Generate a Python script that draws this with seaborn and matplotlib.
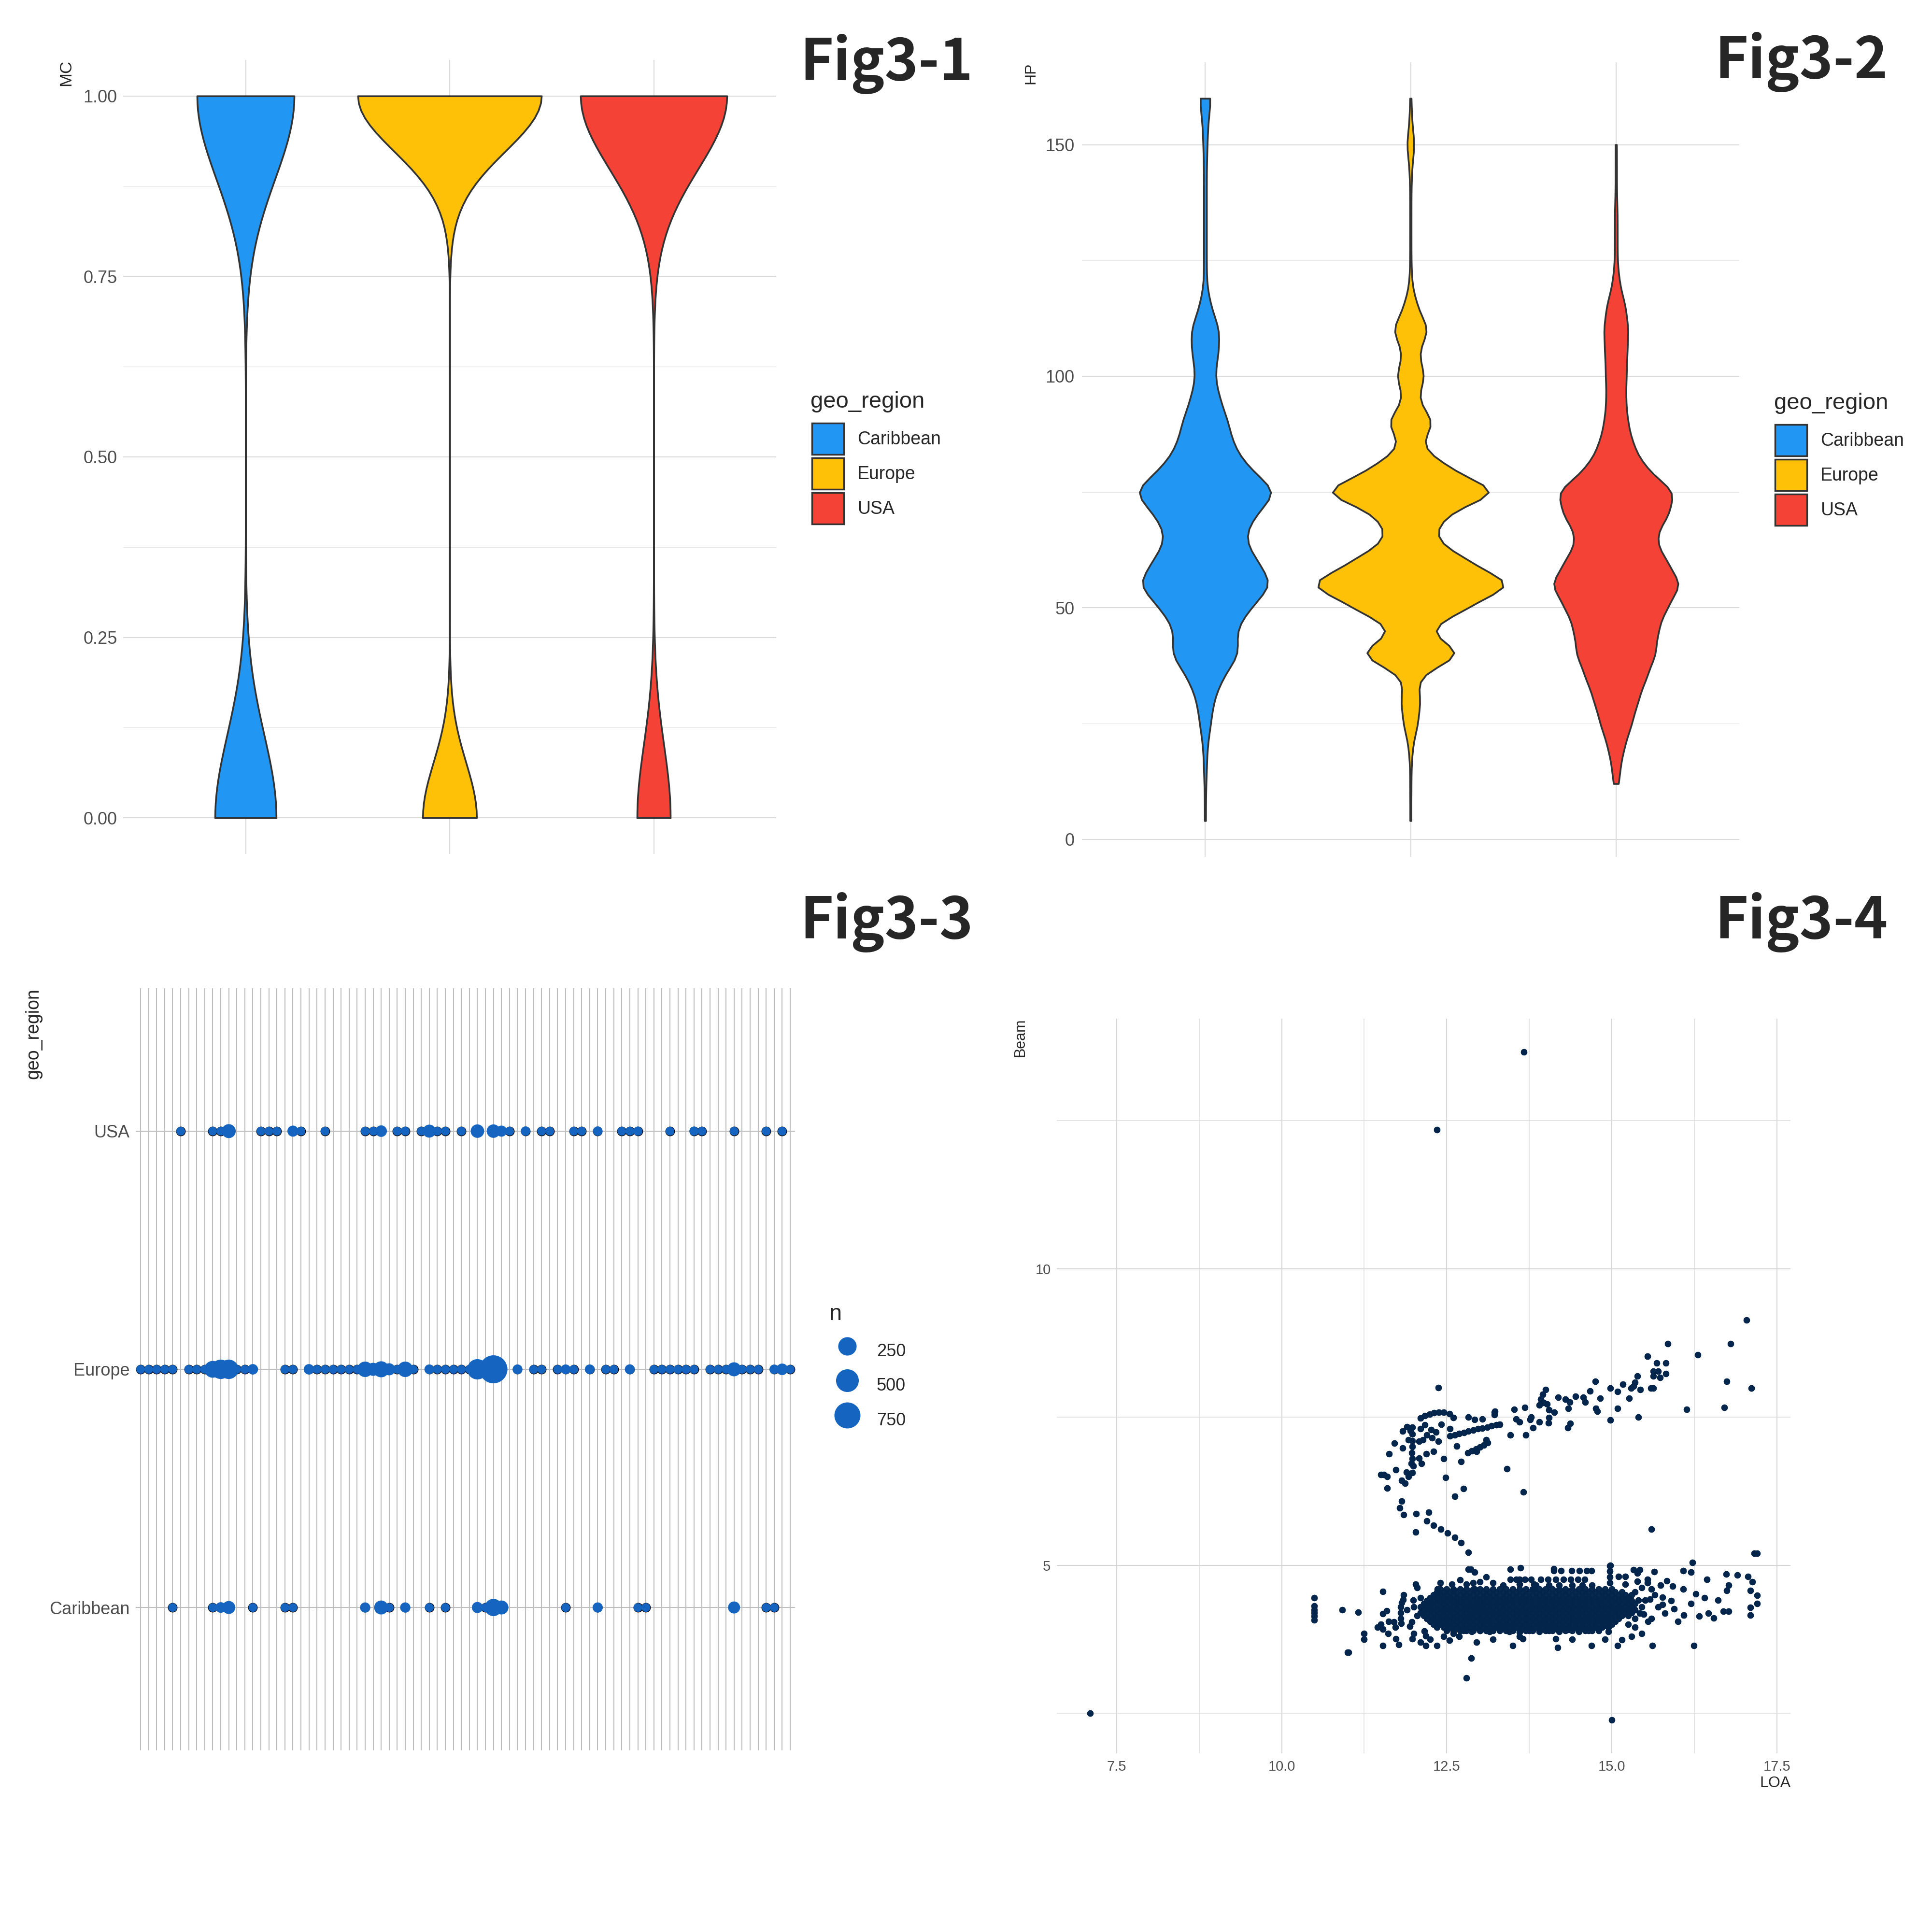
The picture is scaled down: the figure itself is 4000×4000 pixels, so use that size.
import numpy as np
import pandas as pd
import matplotlib
matplotlib.use("Agg")
import matplotlib.pyplot as plt
import seaborn as sns
from matplotlib.patches import Patch
from matplotlib.lines import Line2D
from matplotlib.ticker import FixedLocator

sns.set_theme(style="white")
plt.rcParams['font.family'] = ['Liberation Sans', 'DejaVu Sans']

###################################################
# data

regions = ["Caribbean", "Europe", "USA"]
region_colors = ["#2196F3", "#FFC107", "#F44336"]

# Fig3-1: MC is 0/1, number of boats per value and region
mc_zero = [314, 658, 92]
mc_one = [498, 2242, 404]

# Fig3-2: HP, number of boats per HP value
hp_grid = [4, 10, 15, 20, 25, 30, 35, 40, 45, 50, 55, 60, 65, 70, 75, 80,
           85, 90, 95, 100, 105, 110, 115, 120, 125, 130, 135, 140, 145, 150, 155, 160]
hp_caribbean = [1, 1, 2, 3, 8, 12, 25, 50, 42, 64, 98, 74, 54, 70, 106, 62,
                40, 33, 21, 13, 19, 21, 8, 2, 2, 2, 2, 2, 2, 3, 4, 9]
hp_europe = [1, 1, 1, 3, 11, 15, 9, 82, 22, 84, 158, 86, 34, 50, 138, 58,
             14, 36, 10, 22, 11, 28, 10, 2, 1, 1, 1, 1, 2, 6, 2, 1]
hp_usa_grid = [12, 15, 20, 25, 30, 35, 40, 45, 50, 55, 60, 65, 70, 75, 80,
               85, 90, 95, 100, 105, 110, 115, 120, 125, 130, 135, 140, 145, 150]
hp_usa = [2, 5, 12, 23, 32, 44, 58, 60, 73, 96, 73, 55, 76, 87, 43,
          25, 17, 14, 15, 16, 18, 14, 5, 2, 2, 2, 1, 1, 1]

# Fig3-3: counts n per (hidden x category, geo_region); 82 x categories
n_levels = 82
usa_pos = [5, 9, 10, 11, 15, 16, 17, 19, 20, 23, 28, 29, 30, 32, 33, 35, 36, 37, 38, 40,
           42, 44, 45, 46, 48, 50, 51, 54, 55, 57, 60, 61, 62, 66, 69, 70, 74, 78, 80]
usa_n = [2, 2, 2, 83, 2, 2, 2, 23, 2, 2, 2, 2, 30, 2, 3, 2, 59, 2, 2, 2,
         70, 70, 23, 2, 6, 2, 2, 2, 2, 6, 2, 2, 4, 2, 4, 2, 2, 2, 2]
europe_pos = [0, 1, 2, 3, 4, 6, 7, 8, 9, 10, 11, 12, 13, 14, 18, 19, 21, 22, 23, 24,
              25, 26, 27, 28, 29, 30, 31, 32, 33, 34, 36, 37, 38, 39, 40, 41, 42, 43, 44, 47,
              49, 50, 52, 53, 54, 56, 58, 59, 61, 64, 65, 66, 67, 68, 69, 71, 72, 73, 74, 75,
              76, 77, 79, 80, 81]
europe_n = [2, 2, 2, 2, 2, 2, 2, 2, 180, 300, 300, 2, 2, 15, 2, 2, 15, 2, 2, 2,
            2, 2, 2, 130, 60, 150, 40, 2, 130, 2, 8, 2, 2, 2, 2, 2, 350, 2, 921, 8,
            2, 2, 2, 8, 2, 8, 2, 2, 10, 2, 2, 2, 2, 2, 2, 2, 2, 2, 85, 2,
            2, 2, 6, 30, 2]
caribbean_pos = [4, 9, 10, 11, 14, 18, 19, 28, 30, 31, 33, 36, 38, 42, 43, 44, 45, 53,
                 57, 62, 63, 74, 78, 79]
caribbean_n = [2, 2, 17, 59, 2, 2, 2, 12, 83, 2, 12, 2, 2, 23, 2, 200, 83, 2,
               12, 2, 2, 39, 2, 2]

# Fig3-4: LOA / Beam, (loa, beam, boats at that spot)
arm_points = [
    (13.67, 13.66, 3), (12.35, 12.35, 3), (12.37, 8.00, 2),
    (17.04, 9.14, 1), (15.85, 8.74, 3), (16.80, 8.74, 2), (15.54, 8.53, 3), (16.30, 8.55, 2),
    (15.68, 8.41, 1), (15.82, 8.41, 1), (15.63, 8.27, 1), (15.70, 8.27, 1), (15.82, 8.23, 1),
    (15.63, 8.19, 1), (15.73, 8.17, 1), (15.39, 8.19, 1), (15.35, 8.09, 1), (15.29, 7.99, 1),
    (15.33, 8.02, 1), (15.43, 7.96, 1), (15.59, 7.99, 1), (15.63, 7.99, 1), (16.74, 8.10, 1),
    (17.11, 7.99, 3), (14.75, 8.10, 3), (14.98, 7.99, 3), (15.17, 8.05, 1), (15.09, 7.93, 1),
    (15.26, 7.82, 1), (14.82, 7.82, 1), (14.67, 7.94, 1), (14.57, 7.83, 1), (14.60, 7.75, 1),
    (14.45, 7.85, 3), (14.30, 7.80, 3), (14.36, 7.75, 1), (14.34, 7.65, 1), (14.37, 7.39, 1),
    (14.33, 7.32, 3), (14.19, 7.83, 1), (14.00, 7.96, 1), (13.92, 7.80, 3), (13.97, 7.74, 3),
    (13.90, 7.70, 2), (14.02, 7.72, 2), (13.95, 7.88, 3), (14.05, 7.62, 2), (14.13, 7.58, 1),
    (14.04, 7.40, 2), (14.05, 7.49, 1), (14.76, 7.65, 3), (14.78, 7.60, 1), (15.09, 7.65, 1),
    (14.98, 7.45, 3), (15.40, 7.50, 1), (16.13, 7.63, 1), (16.70, 7.66, 1), (13.68, 7.66, 1),
    (13.52, 7.63, 1), (13.23, 7.60, 1), (13.22, 7.54, 1), (13.78, 7.50, 3), (13.76, 7.46, 3),
    (13.60, 7.42, 3), (13.55, 7.47, 1), (13.90, 7.42, 1), (13.81, 7.32, 1), (13.46, 7.20, 3),
    (13.70, 7.20, 3), (13.30, 7.38, 3),
    (12.55, 7.18, 1), (12.62, 7.20, 1), (12.69, 7.22, 1), (12.76, 7.24, 1), (12.83, 7.26, 1),
    (12.90, 7.28, 1), (12.97, 7.30, 1), (13.04, 7.31, 1), (13.11, 7.33, 1), (13.18, 7.35, 1),
    (13.25, 7.37, 2),
    (12.82, 6.90, 1), (12.88, 6.93, 1), (12.94, 6.96, 1), (13.00, 6.99, 1), (13.06, 7.03, 1),
    (13.12, 7.07, 1), (13.10, 7.12, 3), (12.95, 6.92, 3),
    (12.10, 7.48, 1), (12.17, 7.52, 1), (12.24, 7.55, 1), (12.31, 7.57, 1), (12.38, 7.58, 1),
    (12.45, 7.58, 1), (12.54, 7.56, 1), (12.60, 7.49, 3), (12.83, 7.50, 1), (12.92, 7.46, 1),
    (13.04, 7.47, 1), (13.22, 7.58, 1),
    (11.90, 7.34, 3), (11.98, 7.33, 3), (11.95, 7.27, 3), (11.98, 7.21, 2), (11.98, 7.10, 2),
    (11.98, 7.00, 2), (11.97, 6.90, 2), (11.98, 6.80, 2), (11.96, 6.72, 3), (11.99, 6.68, 3),
    (11.83, 7.26, 1), (11.92, 7.12, 1), (11.83, 6.98, 1), (11.71, 7.06, 1), (11.63, 6.88, 1),
    (12.12, 6.72, 3), (12.08, 6.81, 1), (12.19, 6.88, 1), (12.30, 6.92, 1), (12.45, 6.80, 1),
    (12.72, 6.75, 1), (12.10, 7.30, 1), (12.17, 7.37, 1), (12.26, 7.29, 1), (12.34, 7.25, 1),
    (12.42, 7.38, 1), (12.55, 7.30, 1), (12.14, 7.12, 1), (12.08, 7.09, 1), (12.37, 7.09, 3),
    (12.65, 7.01, 3), (12.20, 7.20, 1), (12.28, 7.15, 1),
    (11.50, 6.53, 3), (11.55, 6.53, 3), (11.60, 6.50, 1), (11.73, 6.61, 3), (11.60, 6.30, 3),
    (11.89, 6.57, 1), (11.92, 6.50, 1), (11.98, 6.56, 1), (11.82, 6.43, 1), (11.87, 6.38, 1),
    (12.48, 6.48, 1), (13.41, 6.63, 3), (13.66, 6.24, 1), (12.75, 6.29, 1), (12.62, 6.16, 1),
    (11.82, 6.08, 1), (11.79, 5.97, 3), (11.85, 5.85, 1), (12.04, 5.87, 1), (12.23, 5.89, 1),
    (12.20, 5.75, 1), (12.30, 5.67, 1), (12.41, 5.61, 1), (12.51, 5.54, 1), (12.62, 5.47, 1),
    (12.72, 5.38, 1), (12.83, 5.22, 1), (12.03, 5.56, 1), (15.60, 5.61, 1), (17.16, 5.20, 3),
    (17.20, 5.20, 1), (16.22, 5.05, 3), (14.98, 5.00, 3),
]
band_points = [
    (7.10, 2.50, 1), (15.00, 2.39, 1), (12.80, 3.10, 1), (12.87, 3.43, 3), (11.00, 3.53, 1),
    (14.12, 4.91, 1), (14.23, 4.91, 1), (14.39, 4.91, 1), (14.51, 4.91, 1), (14.62, 4.91, 1),
    (14.69, 4.91, 1), (14.12, 4.94, 2), (14.97, 4.99, 3), (16.08, 4.91, 3), (16.20, 4.88, 3),
    (15.64, 4.89, 3), (15.33, 4.92, 1), (15.42, 4.92, 1), (16.44, 4.76, 3), (16.73, 4.85, 3),
    (16.90, 4.83, 1), (17.06, 4.81, 1), (17.13, 4.72, 1), (17.10, 4.57, 1), (17.20, 4.49, 1),
    (17.20, 4.35, 1), (17.10, 4.29, 3), (17.10, 4.16, 3), (16.77, 4.66, 1), (16.74, 4.57, 1),
    (16.61, 4.41, 1), (16.77, 4.22, 1), (16.69, 4.22, 1), (16.54, 4.11, 1), (16.46, 4.19, 1),
    (16.32, 4.14, 1), (16.27, 4.52, 1), (16.08, 4.60, 3), (15.92, 4.65, 1), (15.94, 4.26, 3),
    (16.09, 4.16, 3), (15.77, 4.46, 1), (15.77, 4.34, 1), (15.80, 4.19, 1), (15.60, 4.60, 3),
    (15.74, 4.66, 3), (15.83, 4.74, 1), (15.61, 3.64, 1), (16.24, 3.64, 1), (15.15, 3.74, 1),
    (15.09, 3.64, 1), (14.69, 3.64, 1), (14.18, 3.61, 1), (14.15, 3.76, 1), (13.50, 3.64, 1),
    (13.65, 3.76, 3),
    (10.49, 4.45, 1), (10.49, 4.31, 1), (10.49, 4.25, 1), (10.49, 4.20, 1), (10.49, 4.14, 1),
    (10.49, 4.08, 1), (10.92, 4.25, 1), (11.16, 4.21, 1), (11.01, 3.53, 1), (11.25, 3.85, 3),
    (11.25, 3.75, 3), (11.53, 3.64, 3), (11.50, 4.00, 3), (11.53, 3.92, 2), (11.45, 3.95, 1),
    (11.59, 4.23, 1), (11.53, 4.18, 1), (11.53, 4.56, 1), (11.61, 3.85, 1), (11.62, 4.05, 1),
    (11.70, 4.04, 3), (11.72, 3.95, 3), (11.73, 3.76, 3), (11.77, 3.66, 1), (11.82, 4.37, 1),
    (11.84, 4.42, 1), (11.80, 4.30, 1), (11.80, 4.20, 1), (11.80, 4.10, 1), (11.81, 4.02, 1),
    (11.99, 4.41, 3), (11.98, 3.76, 3), (11.94, 3.97, 3), (11.97, 4.04, 3), (12.03, 4.68, 1),
    (12.05, 4.62, 1), (12.18, 3.81, 3), (12.18, 3.64, 3), (12.16, 3.89, 3), (12.35, 3.64, 1),
    (12.54, 3.73, 3), (12.69, 3.80, 3), (12.36, 4.60, 3), (12.36, 4.50, 3),
    (12.58, 4.68, 1), (12.60, 4.57, 1), (12.83, 4.93, 3), (12.86, 4.93, 3), (12.92, 4.88, 1),
    (12.90, 4.70, 1), (12.92, 4.60, 1), (13.46, 4.93, 3), (13.62, 4.96, 1),
    (13.60, 4.76, 3), (13.60, 4.68, 3), (13.60, 3.87, 3), (13.60, 3.80, 3), (13.82, 4.68, 3),
    (13.82, 4.60, 3),
    (13.46, 4.76, 1), (13.55, 4.76, 1), (13.68, 4.76, 1), (13.78, 4.76, 1), (13.92, 4.76, 1),
    (14.03, 4.76, 1), (14.15, 4.76, 1), (14.27, 4.76, 1), (14.38, 4.76, 1), (14.49, 4.76, 1),
    (14.59, 4.76, 1), (13.85, 4.66, 1), (14.05, 4.66, 1), (14.20, 4.66, 1), (14.40, 4.66, 1),
    (14.55, 4.66, 1), (14.70, 4.66, 1),
    (12.75, 3.90, 1), (12.88, 3.88, 1), (13.00, 3.90, 1), (13.15, 3.88, 1), (13.30, 3.92, 1),
    (13.45, 3.88, 1), (13.75, 3.90, 1), (13.90, 3.88, 1), (14.05, 3.90, 1), (14.20, 3.88, 1),
    (14.35, 3.91, 1), (14.50, 3.88, 1), (14.65, 3.90, 1), (14.80, 3.92, 1), (14.95, 3.88, 1),
    (14.97, 4.90, 3), (14.97, 4.80, 3), (14.97, 4.70, 3), (15.10, 4.81, 3), (15.20, 4.81, 3),
    (15.20, 4.68, 3), (15.39, 4.87, 3), (15.39, 4.73, 3), (15.54, 4.76, 3), (15.54, 4.70, 3),
    (15.40, 4.41, 3), (15.50, 4.41, 3), (15.58, 4.43, 3), (15.42, 4.19, 3), (15.48, 4.17, 3),
    (15.45, 4.30, 1), (15.35, 4.10, 1), (15.55, 4.05, 1), (15.35, 3.95, 1), (15.25, 4.00, 1),
    (11.85, 4.50, 1), (11.90, 4.25, 1), (12.00, 4.30, 1), (12.05, 4.15, 1), (12.10, 4.45, 1),
    (12.00, 3.85, 1), (12.10, 3.70, 1), (12.25, 3.75, 1), (12.45, 3.80, 1), (12.60, 3.85, 1),
    (12.40, 4.70, 1), (12.70, 4.75, 1), (12.80, 4.68, 1), (13.00, 4.72, 1), (13.20, 4.70, 1),
    (13.35, 4.66, 1), (13.10, 4.80, 1), (15.35, 4.55, 1), (15.45, 4.62, 1), (15.65, 4.50, 1),
    (15.70, 4.30, 1), (15.60, 4.10, 1), (15.90, 4.40, 1), (16.00, 4.05, 1), (16.20, 4.35, 1),
    (16.40, 4.45, 1), (15.30, 3.80, 1), (15.45, 3.85, 1), (14.90, 3.75, 1), (13.20, 3.75, 1),
    (12.95, 3.70, 1), (14.40, 3.75, 1),
]
# dense core of the band: rows of Beam, LOA span of each row, boats per spot
core_loa_a = [11.90, 12.00, 12.10, 12.20, 12.30, 12.40, 12.50, 12.60, 12.70, 12.80, 12.90,
              13.00, 13.10, 13.20, 13.30, 13.40, 13.50, 13.60, 13.70, 13.80, 13.90, 14.00,
              14.10, 14.20, 14.30, 14.40, 14.50, 14.60, 14.70, 14.80, 14.90, 15.00, 15.10,
              15.20, 15.30]
core_loa_b = [11.85, 11.95, 12.05, 12.15, 12.25, 12.35, 12.45, 12.55, 12.65, 12.75, 12.85,
              12.95, 13.05, 13.15, 13.25, 13.35, 13.45, 13.55, 13.65, 13.75, 13.85, 13.95,
              14.05, 14.15, 14.25, 14.35, 14.45, 14.55, 14.65, 14.75, 14.85, 14.95, 15.05,
              15.15, 15.25, 15.35]
core_beam = [3.90, 3.95, 4.00, 4.05, 4.10, 4.15, 4.20, 4.25, 4.30, 4.35, 4.40, 4.45, 4.50, 4.55, 4.60]
core_from = [12.45, 12.35, 12.25, 12.20, 12.15, 12.10, 12.10, 12.10, 12.10, 12.15, 12.20, 12.25, 12.30, 12.35, 12.40]
core_to = [14.85, 14.95, 15.05, 15.10, 15.15, 15.25, 15.30, 15.35, 15.35, 15.35, 15.35, 15.30, 15.30, 15.15, 15.05]
core_boats = 5

###################################################

W = H = 4000
fig = plt.figure(figsize=(40, 40), dpi=100)
PX = 100 / 72  # pixels per point

def rect(l, t, r, b):
    return [l / W, 1 - b / H, (r - l) / W, (b - t) / H]

def clean(ax, tick_size):
    for s in ax.spines.values():
        s.set_visible(False)
    ax.set_axisbelow(True)
    ax.tick_params(which='both', length=0, labelsize=tick_size, labelcolor='#4D4D4D')

grid_major = dict(color='#DADADA', linewidth=1.5)
grid_minor = dict(color='#E6E6E6', linewidth=0.9)

def region_legend(key_left, key_top, title_left, title_base):
    handles = [Patch(facecolor=c, edgecolor='#333333', linewidth=2.5) for c in region_colors]
    fig.legend(handles, regions, loc='upper left',
               bbox_to_anchor=(key_left / W, 1 - key_top / H), frameon=False, fontsize=27,
               handlelength=1.76, handleheight=2.29, labelspacing=0.19, handletextpad=0.75,
               borderpad=0, borderaxespad=0)
    fig.text(title_left / W, 1 - title_base / H, 'geo_region', fontsize=34, va='baseline')

def fig_tag(text, right, baseline):
    fig.text(right / W, 1 - baseline / H, text, ha='right', va='baseline', fontsize=85,
             fontweight='bold', family=['Noto Sans CJK SC', 'DejaVu Sans'])

###################################################
# Fig3-1

mc_df = pd.concat([pd.DataFrame({'geo_region': r, 'MC': np.repeat([0.0, 1.0], [n0, n1])})
                   for r, n0, n1 in zip(regions, mc_zero, mc_one)])

ax1 = fig.add_axes(rect(255, 124, 1607, 1768))
sns.violinplot(data=mc_df, x='geo_region', y='MC', hue='geo_region', order=regions,
               hue_order=regions, palette=region_colors, cut=0, inner=None,
               density_norm='area', common_norm=True, bw_adjust=0.9, width=0.9,
               saturation=1, linecolor='#333333', linewidth=2.6, legend=False, ax=ax1)
clean(ax1, 26)
ax1.set_xlim(-0.6, 2.6)
ax1.set_ylim(-0.05, 1.05)
ax1.set_yticks([0, 0.25, 0.5, 0.75, 1.0])
ax1.set_yticklabels(['0.00', '0.25', '0.50', '0.75', '1.00'])
ax1.yaxis.set_minor_locator(FixedLocator([0.125, 0.375, 0.625, 0.875]))
ax1.set_xticks([0, 1, 2])
ax1.tick_params(axis='x', labelbottom=False)
ax1.tick_params(axis='y', pad=9)
ax1.grid(True, which='major', **grid_major)
ax1.grid(True, which='minor', axis='y', **grid_minor)
ax1.set_xlabel('')
ax1.set_ylabel('MC', loc='top', fontsize=25)
ax1.yaxis.set_label_coords(-0.0754, 1.0)
region_legend(1681, 876, 1678, 844)
fig_tag('Fig3-1', 2015, 166)

###################################################
# Fig3-2

hp_df = pd.concat([
    pd.DataFrame({'geo_region': 'Caribbean', 'HP': np.repeat(hp_grid, hp_caribbean)}),
    pd.DataFrame({'geo_region': 'Europe', 'HP': np.repeat(hp_grid, hp_europe)}),
    pd.DataFrame({'geo_region': 'USA', 'HP': np.repeat(hp_usa_grid, hp_usa)}),
])

ax2 = fig.add_axes(rect(2240, 129, 3601, 1774))
sns.violinplot(data=hp_df, x='geo_region', y='HP', hue='geo_region', order=regions,
               hue_order=regions, palette=region_colors, cut=0, inner=None,
               density_norm='area', common_norm=True, bw_adjust=0.47, width=0.9,
               saturation=1, linecolor='#333333', linewidth=2.6, legend=False, ax=ax2)
clean(ax2, 26)
lo, hi = hp_df['HP'].min(), hp_df['HP'].max()
ax2.set_xlim(-0.6, 2.6)
ax2.set_ylim(lo - 0.05 * (hi - lo), hi + 0.05 * (hi - lo))
ax2.set_yticks([0, 50, 100, 150])
ax2.yaxis.set_minor_locator(FixedLocator([25, 75, 125]))
ax2.set_xticks([0, 1, 2])
ax2.tick_params(axis='x', labelbottom=False)
ax2.tick_params(axis='y', pad=11)
ax2.grid(True, which='major', **grid_major)
ax2.grid(True, which='minor', axis='y', **grid_minor)
ax2.set_xlabel('')
ax2.set_ylabel('HP', loc='top', fontsize=23)
ax2.yaxis.set_label_coords(-0.0669, 1.0)
region_legend(3675, 879, 3673, 847)
fig_tag('Fig3-2', 3909, 162)

###################################################
# Fig3-3

dot_blue = '#1565C0'
dots = pd.concat([
    pd.DataFrame({'pos': caribbean_pos, 'row': 0, 'n': caribbean_n}),
    pd.DataFrame({'pos': europe_pos, 'row': 1, 'n': europe_n}),
    pd.DataFrame({'pos': usa_pos, 'row': 2, 'n': usa_n}),
])

def dot_diameter(n):
    # size scale: diameter in px grows with sqrt(n)
    return 16.5 + 41.5 * np.sqrt((n - 1) / 920)

size_map = {v: (dot_diameter(v) / PX) ** 2 for v in dots['n'].unique()}

ax3 = fig.add_axes(rect(281, 2046, 1646, 3624))
sns.scatterplot(data=dots, x='pos', y='row', s=(18.5 / PX) ** 2, color=dot_blue,
                edgecolor='black', linewidth=1.0, legend=False, ax=ax3)
sns.scatterplot(data=dots, x='pos', y='row', size='n', sizes=size_map, color=dot_blue,
                edgecolor='none', linewidth=0, legend=False, ax=ax3)
clean(ax3, 26)
ax3.set_xlim(-0.6, n_levels - 1 + 0.6)
ax3.set_ylim(-0.6, 2.6)
ax3.set_xticks(np.arange(n_levels))
ax3.tick_params(axis='x', labelbottom=False)
ax3.set_yticks([0, 1, 2])
ax3.set_yticklabels(regions)
ax3.tick_params(axis='y', pad=9)
ax3.grid(True, which='major', color='#BDBDBD', linewidth=1.5)
ax3.set_xlabel('')
ax3.set_ylabel('geo_region', loc='top', fontsize=27)
ax3.yaxis.set_label_coords(-0.142, 1.0)

n_handles = [Line2D([], [], linestyle='', marker='o', markersize=dot_diameter(v) / PX,
                    markerfacecolor=dot_blue, markeredgewidth=0) for v in [250, 500, 750]]
fig.legend(n_handles, ['250', '500', '750'], loc='upper left',
           bbox_to_anchor=(1720 / W, 1 - 2766 / H), frameon=False, fontsize=26,
           handlelength=1.9, handleheight=2.21, labelspacing=0.3,
           handletextpad=0.73, borderpad=0, borderaxespad=0)
fig.text(1717 / W, 1 - 2733 / H, 'n', fontsize=34, va='baseline')
fig_tag('Fig3-3', 2015, 1943)

###################################################
# Fig3-4

pts = pd.DataFrame(arm_points + band_points, columns=['LOA', 'Beam', 'boats'])
core_rows = []
for i, (b, a, z) in enumerate(zip(core_beam, core_from, core_to)):
    row_loa = core_loa_a if i % 2 == 0 else core_loa_b
    core_rows += [(x, b, core_boats) for x in row_loa if a - 1e-6 <= x <= z + 1e-6]
pts = pd.concat([pts, pd.DataFrame(core_rows, columns=['LOA', 'Beam', 'boats'])])
pts = pts.loc[pts.index.repeat(pts['boats'])].reset_index(drop=True)

navy = '#03254C'
ax4 = fig.add_axes(rect(2188, 2109, 3707, 3630))
sns.scatterplot(data=pts, x='LOA', y='Beam', color=navy, alpha=0.5, s=(12 / PX) ** 2,
                edgecolor=navy, linewidth=0.9, legend=False, ax=ax4)
clean(ax4, 21)
xl, xh = pts['LOA'].min(), pts['LOA'].max()
yl, yh = pts['Beam'].min(), pts['Beam'].max()
ax4.set_xlim(xl - 0.05 * (xh - xl), xh + 0.05 * (xh - xl))
ax4.set_ylim(yl - 0.05 * (yh - yl), yh + 0.05 * (yh - yl))
ax4.set_xticks([7.5, 10, 12.5, 15, 17.5])
ax4.set_xticklabels(['7.5', '10.0', '12.5', '15.0', '17.5'])
ax4.set_yticks([5, 10])
ax4.xaxis.set_minor_locator(FixedLocator([8.75, 11.25, 13.75, 16.25]))
ax4.yaxis.set_minor_locator(FixedLocator([2.5, 7.5, 12.5]))
ax4.tick_params(axis='y', pad=9)
ax4.tick_params(axis='x', pad=10)
ax4.grid(True, which='major', color='#D6D6D6', linewidth=1.5)
ax4.grid(True, which='minor', color='#DDDDDD', linewidth=1.1)
ax4.set_xlabel('LOA', loc='right', fontsize=23, labelpad=4)
ax4.set_ylabel('Beam', loc='top', fontsize=22)
ax4.yaxis.set_label_coords(-0.0395, 1.0)
fig_tag('Fig3-4', 3909, 1943)

fig.savefig('out.png', dpi=100, facecolor='white')
plt.close(fig)
